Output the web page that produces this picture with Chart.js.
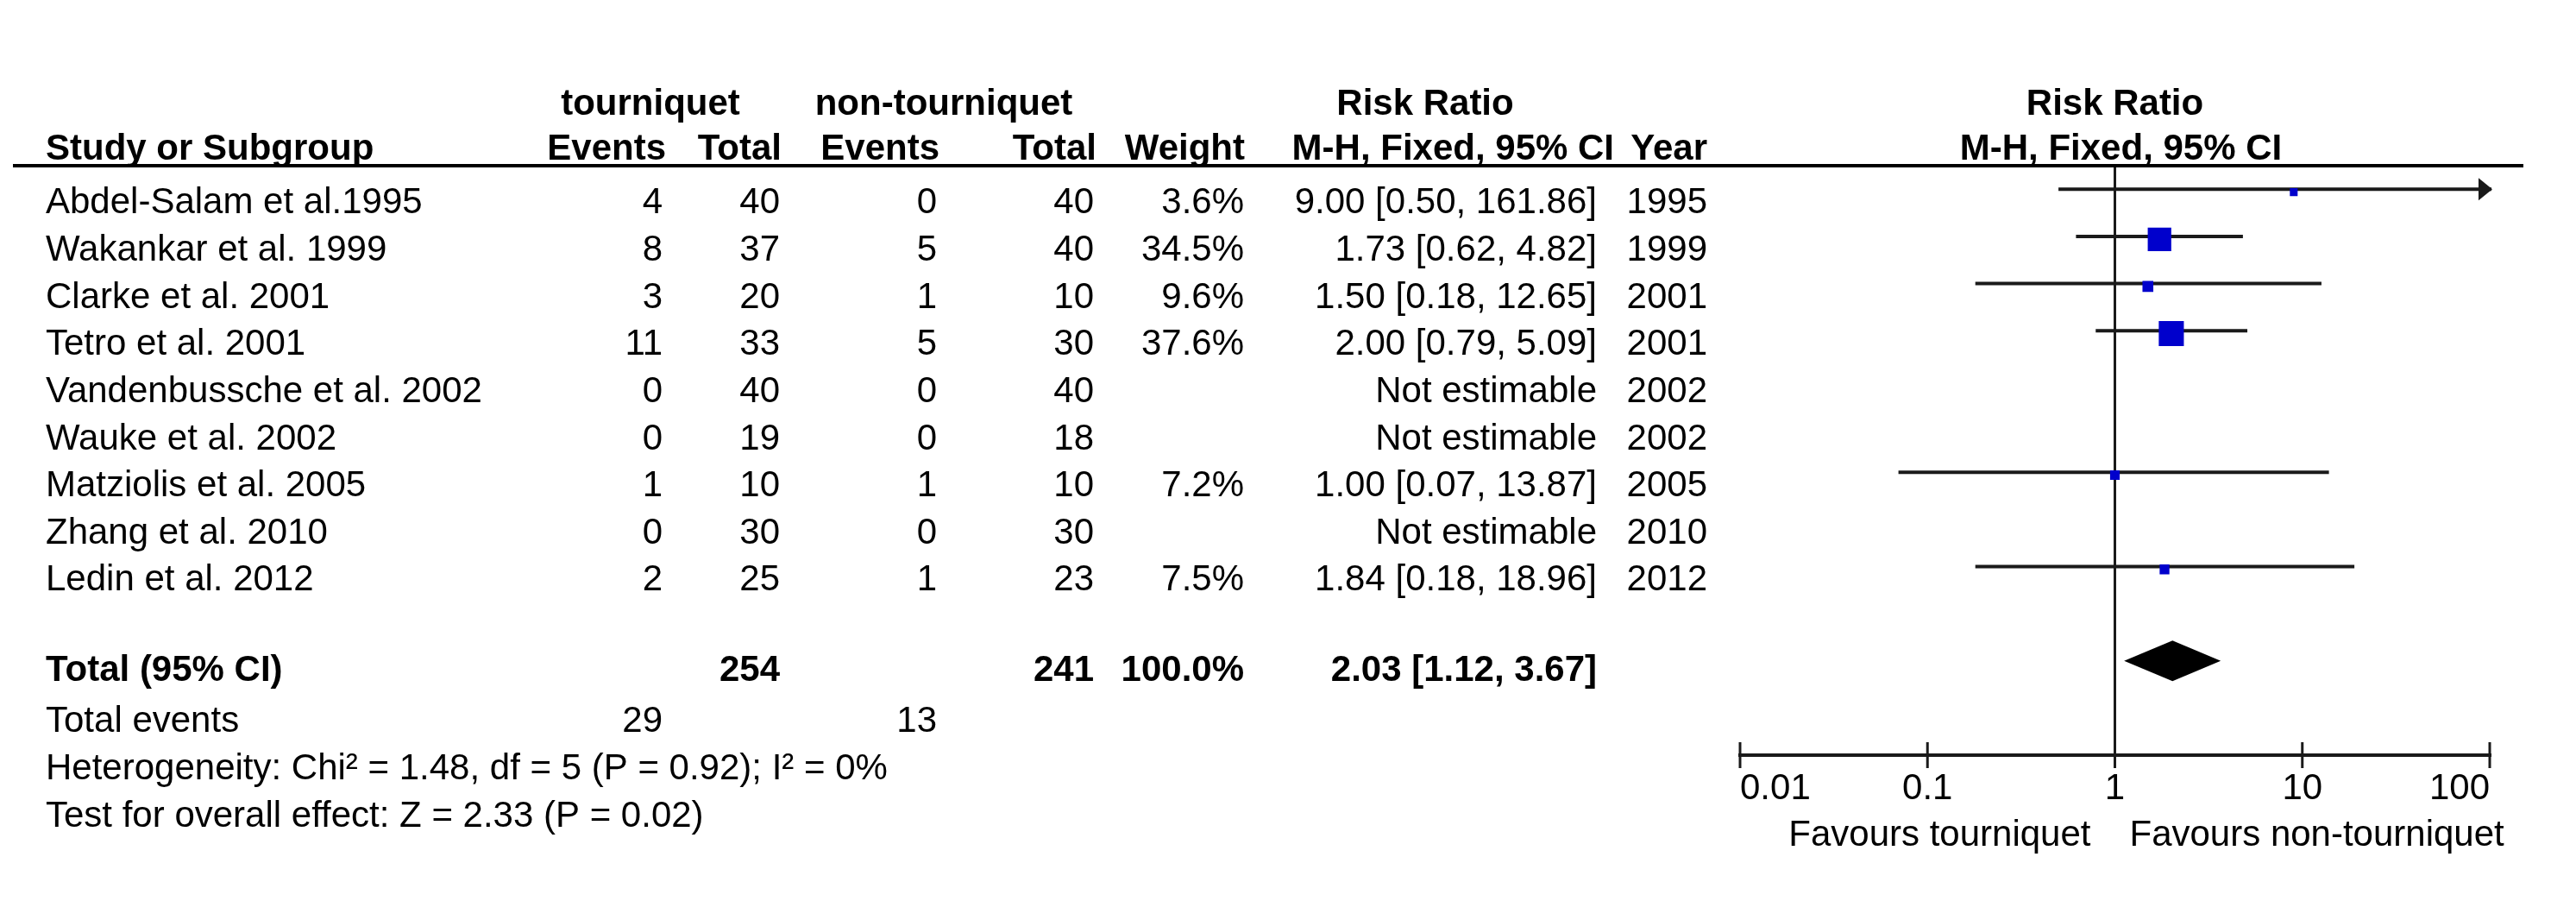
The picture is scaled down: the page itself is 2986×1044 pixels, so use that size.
<!DOCTYPE html>
<html>
<head>
<meta charset="utf-8">
<script src="https://cdn.jsdelivr.net/npm/chart.js@4.4.1/dist/chart.umd.min.js"></script>
<style>
  html, body { margin: 0; padding: 0; background: #ffffff; }
  canvas { display: block; }
</style>
</head>
<body>
<canvas id="forest" width="2986" height="1044" style="width:2986px;height:1044px"></canvas>
<script>
// ---------------- data ----------------
const studies = [
  'Abdel-Salam et al.1995',
  'Wakankar et al. 1999',
  'Clarke et al. 2001',
  'Tetro et al. 2001',
  'Vandenbussche et al. 2002',
  'Wauke et al. 2002',
  'Matziolis et al. 2005',
  'Zhang et al. 2010',
  'Ledin et al. 2012'
];
const eventsTourniquet = [4, 8, 3, 11, 0, 0, 1, 0, 2];
const totalTourniquet = [40, 37, 20, 33, 40, 19, 10, 30, 25];
const eventsNon = [0, 5, 1, 5, 0, 0, 1, 0, 1];
const totalNon = [40, 40, 10, 30, 40, 18, 10, 30, 23];
const weights = [3.6, 34.5, 9.6, 37.6, null, null, 7.2, null, 7.5];
const riskRatio = [9.00, 1.73, 1.50, 2.00, null, null, 1.00, null, 1.84];
const ciLower = [0.50, 0.62, 0.18, 0.79, null, null, 0.07, null, 0.18];
const ciUpper = [161.86, 4.82, 12.65, 5.09, null, null, 13.87, null, 18.96];
const years = [1995, 1999, 2001, 2001, 2002, 2002, 2005, 2010, 2012];

const pooled = [2.03, 1.12, 3.67];          // RR, lower, upper
const pooledTotals = [254, 241];            // tourniquet, non-tourniquet
const pooledEvents = [29, 13];
const pooledWeight = 100.0;
const heterogeneityText = 'Heterogeneity: Chi\u00B2 = 1.48, df = 5 (P = 0.92); I\u00B2 = 0%';
const overallText = 'Test for overall effect: Z = 2.33 (P = 0.02)';
const xTicks = [0.01, 0.1, 1, 10, 100];
const favourLeft = 'Favours tourniquet';
const favourRight = 'Favours non-tourniquet';

// ---------------- derived chart data ----------------
const boxPoints = [];
const ciPoints = [];
studies.forEach((s, i) => {
  if (riskRatio[i] !== null) {
    boxPoints.push({ x: riskRatio[i], y: i, w: weights[i] });
    ciPoints.push({ x: ciLower[i], y: i });
    ciPoints.push({ x: ciUpper[i], y: i });
    ciPoints.push({ x: null, y: null });
  }
});
const TOTAL_ROW = studies.length + 1;

// ---------------- styling ----------------
const FONT = '"Liberation Sans", Arial, Helvetica, sans-serif';
const FS = 42;
const INK = '#000000';
const LINE = '#1a1a1a';
const BOX = '#0000cc';

function fmt2(v) { return v.toFixed(2); }
function ciText(r, l, u) { return fmt2(r) + ' [' + fmt2(l) + ', ' + fmt2(u) + ']'; }
function boxSide(w) { return 6.9 + 0.59 * w; }

function drawText(ctx, s, x, y, align, bold) {
  ctx.font = (bold ? 'bold ' : '') + FS + 'px ' + FONT;
  ctx.fillStyle = INK;
  ctx.textAlign = align;
  ctx.textBaseline = 'alphabetic';
  ctx.fillText(String(s), x, y);
}

const col = {
  name: 53,
  evT: 768, totT: 904, evN: 1086, totN: 1268, weight: 1442, ci: 1851, year: 1979,
  hEvT: 772, hTotT: 906, hEvN: 1089, hTotN: 1271, hWeight: 1443, hCi: 1871, hYear: 1979,
  grpT: 754, grpN: 1094, grpRR: 1652
};

const forestPlugin = {
  id: 'forestExtras',
  beforeDatasetDraw(chart, args) {
    if (args.index === 0) { chart.ctx.save(); chart.ctx.translate(0, 3.3); }
  },
  afterDatasetDraw(chart, args) {
    if (args.index === 0) { chart.ctx.restore(); }
  },
  afterDatasetsDraw(chart) {
    const ctx = chart.ctx, xs = chart.scales.x, ys = chart.scales.y;
    ctx.save();
    // arrows for intervals beyond the axis
    ciUpper.forEach((u, i) => {
      if (u !== null && u > xs.max) {
        const px = xs.getPixelForValue(xs.max);
        const py = ys.getPixelForValue(i);
        ctx.fillStyle = LINE;
        ctx.beginPath();
        ctx.moveTo(px + 3, py);
        ctx.lineTo(px - 13, py - 13);
        ctx.lineTo(px - 13, py + 13);
        ctx.closePath();
        ctx.fill();
      }
    });
    // pooled diamond
    const dy = ys.getPixelForValue(TOTAL_ROW);
    const h = 23.5;
    ctx.fillStyle = '#000';
    ctx.beginPath();
    ctx.moveTo(xs.getPixelForValue(pooled[1]), dy);
    ctx.lineTo(xs.getPixelForValue(pooled[0]), dy - h);
    ctx.lineTo(xs.getPixelForValue(pooled[2]), dy);
    ctx.lineTo(xs.getPixelForValue(pooled[0]), dy + h);
    ctx.closePath();
    ctx.fill();
    ctx.restore();
  },
  afterDraw(chart) {
    const ctx = chart.ctx, xs = chart.scales.x, ys = chart.scales.y;
    const area = chart.chartArea;
    ctx.save();
    // tick marks crossing the axis line
    ctx.strokeStyle = LINE;
    ctx.lineWidth = 3;
    xTicks.forEach(v => {
      const px = xs.getPixelForValue(v);
      ctx.beginPath();
      ctx.moveTo(px, area.bottom - 15);
      ctx.lineTo(px, area.bottom + 15);
      ctx.stroke();
    });
    // header rule
    ctx.lineWidth = 4;
    ctx.strokeStyle = '#000';
    ctx.beginPath();
    ctx.moveTo(15, area.top);
    ctx.lineTo(2925, area.top);
    ctx.stroke();

    // headers
    const h1 = area.top - 59, h2 = area.top - 7;
    const plotMid = xs.getPixelForValue(1);
    drawText(ctx, 'tourniquet', col.grpT, h1, 'center', true);
    drawText(ctx, 'non-tourniquet', col.grpN, h1, 'center', true);
    drawText(ctx, 'Risk Ratio', col.grpRR, h1, 'center', true);
    drawText(ctx, 'Risk Ratio', plotMid, h1, 'center', true);
    drawText(ctx, 'Study or Subgroup', col.name, h2, 'left', true);
    drawText(ctx, 'Events', col.hEvT, h2, 'right', true);
    drawText(ctx, 'Total', col.hTotT, h2, 'right', true);
    drawText(ctx, 'Events', col.hEvN, h2, 'right', true);
    drawText(ctx, 'Total', col.hTotN, h2, 'right', true);
    drawText(ctx, 'Weight', col.hWeight, h2, 'right', true);
    drawText(ctx, 'M-H, Fixed, 95% CI', col.hCi, h2, 'right', true);
    drawText(ctx, 'Year', col.hYear, h2, 'right', true);
    drawText(ctx, 'M-H, Fixed, 95% CI', plotMid + 7, h2, 'center', true);

    // study rows
    studies.forEach((s, i) => {
      const by = ys.getPixelForValue(i) + 28;
      drawText(ctx, s, col.name, by, 'left', false);
      drawText(ctx, eventsTourniquet[i], col.evT, by, 'right', false);
      drawText(ctx, totalTourniquet[i], col.totT, by, 'right', false);
      drawText(ctx, eventsNon[i], col.evN, by, 'right', false);
      drawText(ctx, totalNon[i], col.totN, by, 'right', false);
      if (weights[i] !== null) drawText(ctx, weights[i].toFixed(1) + '%', col.weight, by, 'right', false);
      drawText(ctx, riskRatio[i] !== null ? ciText(riskRatio[i], ciLower[i], ciUpper[i]) : 'Not estimable', col.ci, by, 'right', false);
      drawText(ctx, years[i], col.year, by, 'right', false);
    });

    // totals
    const ty = ys.getPixelForValue(TOTAL_ROW) + 23;
    drawText(ctx, 'Total (95% CI)', col.name, ty, 'left', true);
    drawText(ctx, pooledTotals[0], col.totT, ty, 'right', true);
    drawText(ctx, pooledTotals[1], col.totN, ty, 'right', true);
    drawText(ctx, pooledWeight.toFixed(1) + '%', col.weight, ty, 'right', true);
    drawText(ctx, ciText(pooled[0], pooled[1], pooled[2]), col.ci, ty, 'right', true);

    const ey = ys.getPixelForValue(TOTAL_ROW + 1) + 28;
    drawText(ctx, 'Total events', col.name, ey, 'left', false);
    drawText(ctx, pooledEvents[0], col.evT, ey, 'right', false);
    drawText(ctx, pooledEvents[1], col.evN, ey, 'right', false);
    drawText(ctx, heterogeneityText, col.name, ys.getPixelForValue(TOTAL_ROW + 2) + 28, 'left', false);
    drawText(ctx, overallText, col.name, ys.getPixelForValue(TOTAL_ROW + 3) + 28, 'left', false);

    // favours labels
    drawText(ctx, favourLeft, plotMid - 28, 980, 'right', false);
    drawText(ctx, favourRight, plotMid + 17, 980, 'left', false);
    ctx.restore();
  }
};

new Chart(document.getElementById('forest').getContext('2d'), {
  type: 'scatter',
  data: {
    datasets: [
      {
        label: 'Risk ratio',
        type: 'scatter',
        data: boxPoints,
        pointStyle: 'rect',
        pointRadius: c => (c.raw ? boxSide(c.raw.w) / (2 * Math.SQRT1_2) : 0),
        pointHoverRadius: c => (c.raw ? boxSide(c.raw.w) / (2 * Math.SQRT1_2) : 0),
        backgroundColor: BOX,
        borderWidth: 0,
        order: 0
      },
      {
        label: '95% CI',
        type: 'line',
        data: ciPoints,
        borderColor: LINE,
        borderWidth: 4,
        pointRadius: 0,
        pointHoverRadius: 0,
        fill: false,
        spanGaps: false,
        tension: 0,
        order: 1,
        clip: { left: false, top: false, right: 2, bottom: false }
      }
    ]
  },
  options: {
    responsive: false,
    animation: false,
    devicePixelRatio: 1,
    layout: { padding: { left: 2017, right: 100, top: 192, bottom: 0 } },
    plugins: { legend: { display: false }, tooltip: { enabled: false }, title: { display: false } },
    scales: {
      x: {
        type: 'logarithmic',
        position: 'bottom',
        min: 0.01,
        max: 100,
        afterBuildTicks: s => { s.ticks = xTicks.map(v => ({ value: v })); },
        afterFit: s => { s.height = 169; },
        ticks: {
          callback: v => String(v),
          align: 'inner',
          autoSkip: false,
          maxRotation: 0,
          minRotation: 0,
          padding: 14,
          color: INK,
          font: { family: FONT, size: FS }
        },
        grid: {
          drawTicks: false,
          color: c => (c.tick && c.tick.value === 1 ? LINE : 'rgba(0,0,0,0)'),
          lineWidth: 3
        },
        border: { display: true, color: LINE, width: 4 }
      },
      y: {
        type: 'linear',
        min: -0.5,
        max: 12,
        reverse: true,
        display: false
      }
    }
  },
  plugins: [forestPlugin]
});
</script>
</body>
</html>
